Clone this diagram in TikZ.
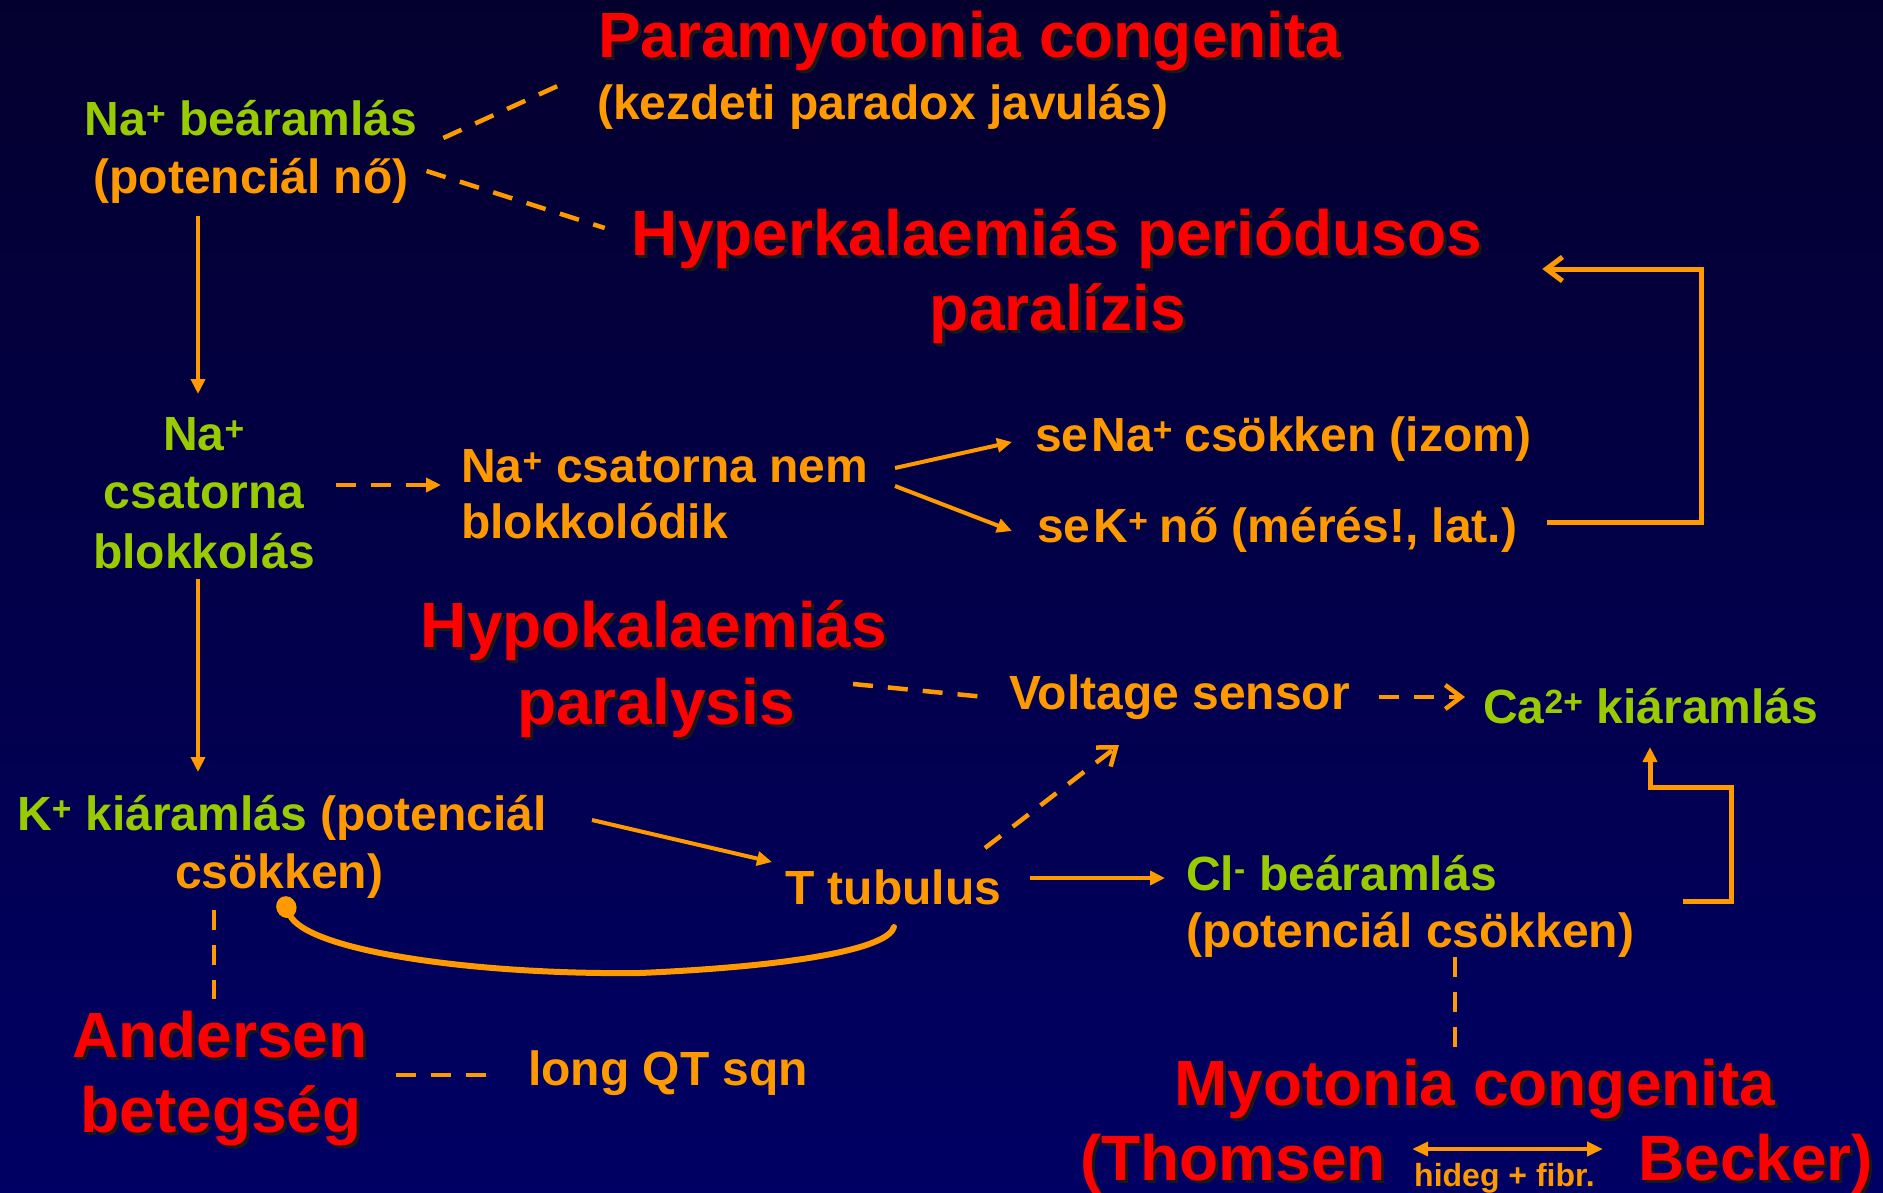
\documentclass[tikz,border=0pt]{standalone}
\usepackage{fontspec}
\setmainfont{Liberation Sans}
\usetikzlibrary{arrows.meta}
\definecolor{org}{HTML}{FF9900}
\definecolor{grn}{HTML}{99CC00}
\definecolor{rd}{HTML}{FF0000}
\definecolor{bgtop}{RGB}{4,0,46}
\definecolor{bgmid}{RGB}{2,0,80}
\definecolor{bgbot}{RGB}{0,0,100}
\newcommand{\redlabel}[4]{%
  \node[redtxt, text=black!90, anchor=#2, xshift=3pt, yshift=-3pt] (#1s) at #3 {#4};
  \node[redtxt, anchor=#2] (#1) at #3 {#4};}
\begin{document}
\begin{tikzpicture}[x=1pt,y=-1pt,
  txt/.style={inner sep=0pt, text=org, font=\fontsize{48}{58}\selectfont\bfseries},
  gtxt/.style={txt, text=grn},
  redtxt/.style={inner sep=0pt, text=rd, font=\fontsize{64}{76}\selectfont\bfseries},
  smalltxt/.style={inner sep=0pt, text=org, font=\fontsize{32}{38}\selectfont\bfseries},
  arr/.style={draw=org, line width=4pt, -{Triangle[length=15pt,width=14pt]}},
  dsh/.style={draw=org, line width=4.5pt, dash pattern=on 20pt off 15pt},
  barb/.style={-{Straight Barb[length=16pt,width=24pt]}},
  conn/.style={draw=org, line width=4.5pt}]
\shade[top color=bgtop, middle color=bgmid, bottom color=bgbot] (0,0) rectangle (1883,1192);
\useasboundingbox (0,0) rectangle (1883,1192);

% ---- text nodes ----
\node[gtxt, anchor=base] (nab1) at (251,135) {Na\textsuperscript{+} beáramlás};
\node[txt, anchor=base] (nab2) at (251,193) {(potenciál nő)};
\redlabel{par1}{base west}{(598,57)}{Paramyotonia congenita}
\node[txt, anchor=base west] (par2) at (597,119) {(kezdeti paradox javulás)};
\redlabel{hyp1}{base}{(1057,255)}{Hyperkalaemiás periódusos}
\redlabel{hyp2}{base}{(1058,330)}{paralízis}

\node[gtxt, anchor=base] (nc1) at (204,450) {Na\textsuperscript{+}};
\node[gtxt, anchor=base] (nc2) at (204,508) {csatorna};
\node[gtxt, anchor=base] (nc3) at (204,568) {blokkolás};

\node[txt, anchor=base west] (nn1) at (461,482) {Na\textsuperscript{+} csatorna nem};
\node[txt, anchor=base west] (nn2) at (461,538) {blokkolódik};

\node[txt, anchor=base west] (se1) at (1035,451) {se\kern3pt Na\textsuperscript{+}\kern-2pt{} csökken (izom)};
\node[txt, anchor=base west] (se2) at (1037,542) {se\kern3pt K\textsuperscript{+}\kern-2pt{} nő (mérés!, lat.)};

\redlabel{hk1}{base}{(654,647)}{Hypokalaemiás}
\redlabel{hk2}{base}{(656,724)}{paralysis}

\node[txt, anchor=base west] (vs) at (1009,709) {Voltage sensor};
\node[gtxt, anchor=base west] (ca) at (1483,723) {Ca\textsuperscript{2+} kiáramlás};

\node[txt, anchor=base west] (k1) at (17,830) {\textcolor{grn}{K\textsuperscript{+} kiáramlás} (potenciál};
\node[txt, anchor=base west] (k2) at (175,888) {csökken)};

\node[txt, anchor=base west] (tt) at (785,904) {T tubulus};
\node[gtxt, anchor=base west] (cl1) at (1186,890) {Cl\textsuperscript{-} beáramlás};
\node[txt, anchor=base west] (cl2) at (1186,947) {(potenciál csökken)};

\redlabel{an1}{base}{(220,1057)}{Andersen}
\redlabel{an2}{base}{(221,1132)}{betegség}
\node[txt, anchor=base west] (qt) at (528,1085) {long QT sqn};

\redlabel{my}{base}{(1475,1105)}{Myotonia congenita}
\redlabel{th}{base west}{(1080,1180)}{(Thomsen}
\redlabel{be}{base west}{(1638,1180)}{Becker)}
\node[smalltxt, anchor=base west] (hf) at (1414,1186) {hideg + fibr.};

% ---- connectors ----
\draw[dsh] ([shift={(26,3)}]nab1.base east) -- ([shift={(-35,-35)}]par2.base west);
\draw[dsh] ([shift={(18,-22)}]nab2.base east) -- ([shift={(-27,-27)}]hyp1.base west);

\draw[arr] ([shift={(-53,23)}]nab2.base) -- ([shift={(-6,-56)}]nc1.base);
\draw[arr] ([shift={(-6,11)}]nc3.base) -- ([shift={(181,-58)}]k1.base west);

\draw[dsh, -{Triangle[length=15pt,width=14pt]}] ([shift={(32,-23)}]nc2.base east) -- ([shift={(-20,3)}]nn1.base west);

\draw[arr] ([shift={(434,-14)}]nn1.base west) -- ([shift={(-23,-9)}]se1.base west);
\draw[arr] ([shift={(434,4)}]nn1.base west) -- ([shift={(-25,-11)}]se2.base west);

\draw[conn, barb, line width=5pt] ([shift={(510,-20)}]se2.base west) -| ([shift={(219,14)}]hyp1.base east) -- ([shift={(60,14)}]hyp1.base east);

\draw[dsh] ([shift={(199,37)}]hk1.base) -- ([shift={(-24,-12)}]vs.base west);
\draw[dsh, barb] ([shift={(370,-12)}]vs.base west) -- ([shift={(-18,-26)}]ca.base west);

\draw[conn, line width=5pt, -{Triangle[length=15pt,width=14pt]}] ([shift={(497,11)}]cl1.base west) -- ++(48,0) -- ++(0,-114) -| ([shift={(167,24)}]ca.base west);

\draw[arr] ([shift={(575,-10)}]k1.base west) -- ([shift={(-13,-42)}]tt.base west);
\draw[dsh, barb] ([shift={(200,-56)}]tt.base west) -- ([shift={(110,36)}]vs.base west);
\draw[arr] ([shift={(245,-26)}]tt.base west) -- ([shift={(-21,-12)}]cl1.base west);

\draw[draw=org, line width=6pt, line cap=round, -{Ellipse[length=22pt,width=20pt]}]
  ([shift={(109,23)}]tt.base west) .. controls (888,948) and (800,966) .. (640,973)
  .. controls (470,975) and (305,950) .. ([shift={(107,9)}]k2.base west);

\draw[dsh] ([shift={(39,22)}]k2.base west) -- ([shift={(-6,-58)}]an1.base);
\draw[dsh] ([shift={(28,18)}]an1.base east) -- ([shift={(-36,-10)}]qt.base west);
\draw[dsh] ([shift={(269,10)}]cl2.base west) -- ([shift={(-20,-51)}]my.base);

\draw[draw=org, line width=4.5pt, {Triangle[length=16pt,width=14pt]}-{Triangle[length=16pt,width=14pt]}]
  ([shift={(26,-31)}]th.base east) -- ([shift={(-35,-31)}]be.base west);
\end{tikzpicture}
\end{document}
